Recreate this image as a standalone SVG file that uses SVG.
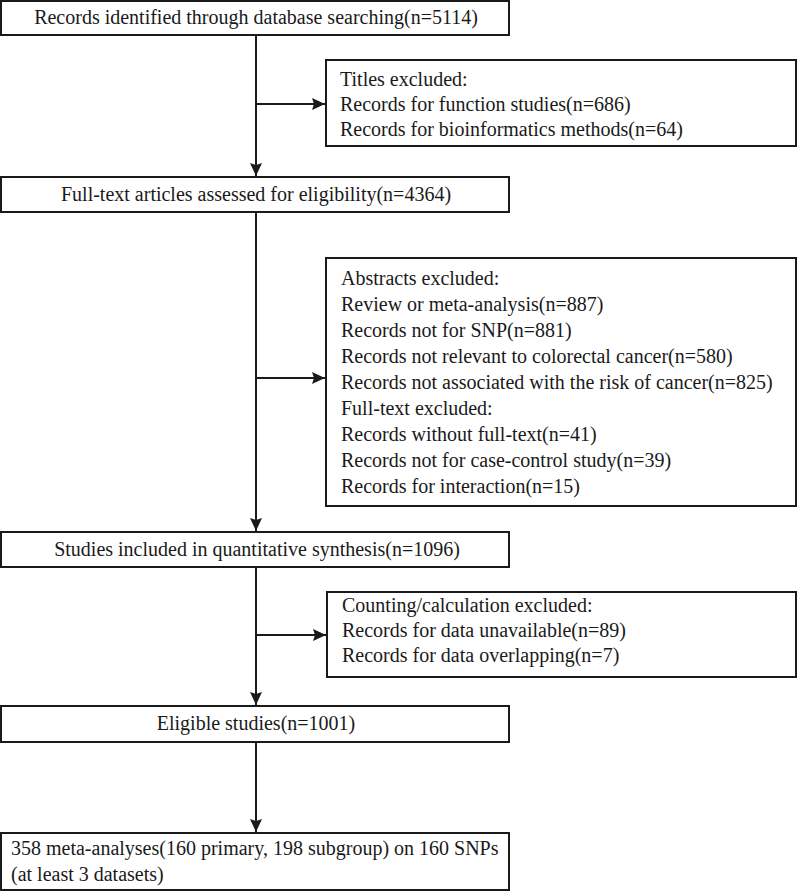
<svg xmlns="http://www.w3.org/2000/svg" width="797" height="892" viewBox="0 0 797 892">
<style>
  .box { fill: #ffffff; stroke: #1a1a1a; stroke-width: 2; }
  .t { font-family: "Liberation Serif", "Times New Roman", serif; font-size: 20px; fill: #1a1a1a; }
  .c { text-anchor: middle; }
  .ln { stroke: #1a1a1a; stroke-width: 2; fill: none; }
</style>
<defs>
  <marker id="arr" markerUnits="userSpaceOnUse" markerWidth="14" markerHeight="12" refX="13" refY="6" orient="auto">
    <path d="M0,0 L13,6 L0,12 L2,6 z" fill="#1a1a1a"/>
  </marker>
</defs>
<g id="connectors">
  <line class="ln" x1="256" y1="35" x2="256" y2="176" marker-end="url(#arr)"/>
  <line class="ln" x1="256" y1="104" x2="325" y2="104" marker-end="url(#arr)"/>
  <line class="ln" x1="256" y1="212" x2="256" y2="531" marker-end="url(#arr)"/>
  <line class="ln" x1="256" y1="378" x2="325" y2="378" marker-end="url(#arr)"/>
  <line class="ln" x1="256" y1="567" x2="256" y2="705" marker-end="url(#arr)"/>
  <line class="ln" x1="256" y1="635" x2="326" y2="635" marker-end="url(#arr)"/>
  <line class="ln" x1="256" y1="742" x2="256" y2="832" marker-end="url(#arr)"/>
</g>
<g id="n1">
  <rect class="box" x="1" y="1" width="508" height="34"/>
  <text class="t c" x="256" y="24">Records identified through database searching(n=5114)</text>
</g>
<g id="n2">
  <rect class="box" x="326" y="60" width="470" height="86"/>
  <text class="t" x="340" y="86">Titles excluded:</text>
  <text class="t" x="340" y="111">Records for function studies(n=686)</text>
  <text class="t" x="340" y="136">Records for bioinformatics methods(n=64)</text>
</g>
<g id="n3">
  <rect class="box" x="1" y="177" width="508" height="35"/>
  <text class="t c" x="256" y="201">Full-text articles assessed for eligibility(n=4364)</text>
</g>
<g id="n4">
  <rect class="box" x="326" y="258" width="470" height="248"/>
  <text class="t" x="341" y="285">Abstracts excluded:</text>
  <text class="t" x="341" y="311">Review or meta-analysis(n=887)</text>
  <text class="t" x="341" y="337">Records not for SNP(n=881)</text>
  <text class="t" x="341" y="363">Records not relevant to colorectal cancer(n=580)</text>
  <text class="t" x="341" y="389">Records not associated with the risk of cancer(n=825)</text>
  <text class="t" x="341" y="415">Full-text excluded:</text>
  <text class="t" x="341" y="441">Records without full-text(n=41)</text>
  <text class="t" x="341" y="467">Records not for case-control study(n=39)</text>
  <text class="t" x="341" y="493">Records for interaction(n=15)</text>
</g>
<g id="n5">
  <rect class="box" x="1" y="532" width="508" height="35"/>
  <text class="t c" x="257" y="556">Studies included in quantitative synthesis(n=1096)</text>
</g>
<g id="n6">
  <rect class="box" x="327" y="592" width="469" height="85"/>
  <text class="t" x="342" y="612">Counting/calculation excluded:</text>
  <text class="t" x="342" y="637">Records for data unavailable(n=89)</text>
  <text class="t" x="342" y="662">Records for data overlapping(n=7)</text>
</g>
<g id="n7">
  <rect class="box" x="1" y="706" width="508" height="36"/>
  <text class="t c" x="256" y="730">Eligible studies(n=1001)</text>
</g>
<g id="n8">
  <rect class="box" x="1" y="833" width="508" height="57"/>
  <text class="t" x="11" y="855">358 meta-analyses(160 primary, 198 subgroup) on 160 SNPs</text>
  <text class="t" x="11" y="881">(at least 3 datasets)</text>
</g>
</svg>
